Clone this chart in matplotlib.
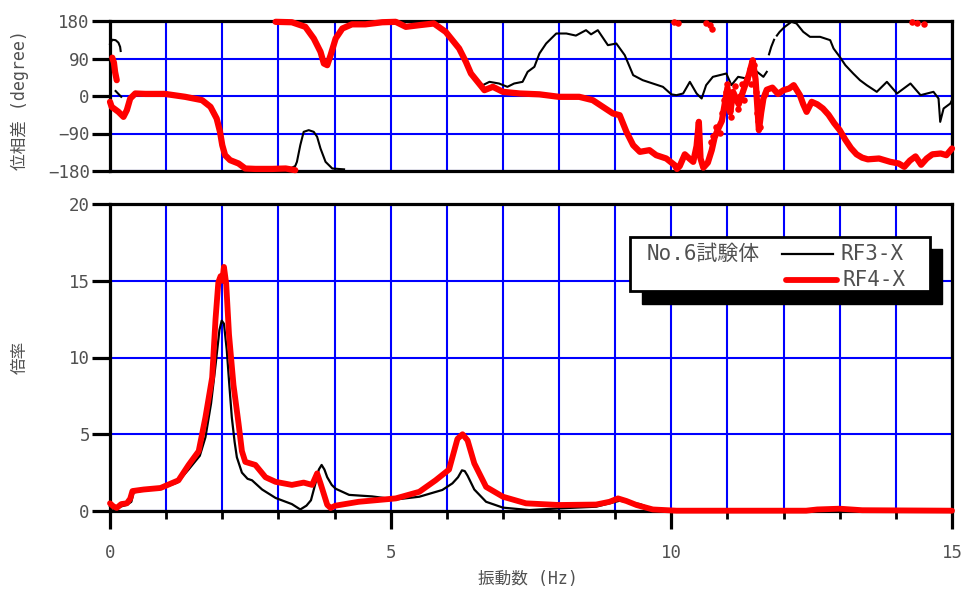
import numpy as np
import matplotlib
matplotlib.use("Agg")
import matplotlib.pyplot as plt
from matplotlib.patches import Rectangle
from matplotlib.lines import Line2D

plt.rcParams['font.family'] = ['DejaVu Sans Mono', 'Noto Sans CJK JP']

nan = np.nan

# ---- 倍率 (amplification) ----
rf3_amp_f = [0.0, 0.05, 0.1, 0.2, 0.3, 0.38, 0.42, 0.6, 0.9, 1.2, 1.4, 1.6, 1.7, 1.8,
             1.88, 1.95, 1.99, 2.03, 2.08, 2.13, 2.17, 2.22, 2.26, 2.35, 2.45, 2.53,
             2.71, 2.95, 3.24, 3.39, 3.5, 3.58, 3.66, 3.72, 3.77, 3.82, 3.87, 3.95,
             4.02, 4.26, 4.67, 5.09, 5.51, 5.92, 6.1, 6.2, 6.27, 6.32, 6.37, 6.49,
             6.7, 7.0, 7.47, 8.0, 8.66, 9.08, 9.2, 9.44, 9.67, 10.0, 12.4, 12.6,
             12.8, 13.0, 13.2, 13.4, 15.0]
rf3_amp = [0.3, 0.15, 0.1, 0.3, 0.4, 0.6, 1.2, 1.35, 1.45, 1.85, 2.7, 3.6, 4.8, 7.0,
           9.5, 11.8, 12.4, 12.2, 10.5, 8.0, 6.1, 4.5, 3.5, 2.5, 2.1, 2.0,
           1.4, 0.85, 0.45, 0.1, 0.35, 0.7, 1.8, 2.7, 3.0, 2.7, 2.2, 1.7,
           1.45, 1.05, 0.95, 0.75, 0.93, 1.37, 1.8, 2.2, 2.65, 2.6, 2.3, 1.4,
           0.6, 0.22, 0.06, 0.17, 0.28, 0.67, 0.6, 0.45, 0.12, 0.02, 0.02, 0.15,
           0.1, 0.2, 0.1, 0.02, 0.02]

rf4_amp_f = [0.0, 0.06, 0.12, 0.2, 0.3, 0.36, 0.4, 0.6, 0.9, 1.22, 1.4, 1.58, 1.7,
             1.82, 1.88, 1.93, 1.97, 2.0, 2.03, 2.07, 2.12, 2.2, 2.29, 2.35, 2.41,
             2.59, 2.77, 2.95, 3.24, 3.45, 3.6, 3.69, 3.75, 3.87, 3.93, 4.02, 4.43,
             5.09, 5.51, 5.8, 6.04, 6.19, 6.28, 6.37, 6.49, 6.7, 7.0, 7.41, 8.0,
             8.66, 8.9, 9.05, 9.2, 9.38, 9.67, 10.09, 12.4, 12.6, 13.0, 13.4, 15.0]
rf4_amp = [0.5, 0.3, 0.2, 0.45, 0.5, 0.8, 1.3, 1.4, 1.5, 2.0, 3.0, 3.9, 6.1,
           8.7, 12.5, 14.9, 15.3, 15.0, 15.9, 14.8, 11.5, 8.2, 5.7, 3.9, 3.2,
           3.0, 2.2, 1.9, 1.7, 1.85, 1.7, 2.45, 1.8, 0.4, 0.2, 0.35, 0.6,
           0.82, 1.25, 2.0, 2.7, 4.7, 5.0, 4.6, 3.1, 1.57, 0.93, 0.5, 0.39,
           0.42, 0.6, 0.82, 0.65, 0.39, 0.1, 0.02, 0.02, 0.1, 0.15, 0.05, 0.02]

# ---- 位相差 (phase, degree); nan separates wrapped pieces ----
rf3_ph_f = [0.0, 0.04, 0.1, 0.15, 0.18, 0.19, nan,
            0.1, 0.15, 0.2, nan,
            2.5, 2.8, 3.0, 3.2, 3.3, 3.33, 3.39, 3.45, 3.54, 3.63, 3.69, 3.75, 3.84,
            3.96, 4.17, nan,
            6.64, 6.76, 6.93, 7.08, 7.2, 7.35, 7.44, 7.56, 7.65, 7.77, 7.95, 8.13,
            8.3, 8.48, 8.57, 8.69, 8.87, 9.02, 9.17, 9.32, 9.49, 9.67, 9.85, 10.0,
            10.09, 10.21, 10.33, 10.45, 10.54, 10.62, 10.74, 10.86, 10.98, 11.07,
            11.19, 11.34, 11.49, 11.64, 11.7, nan,
            11.74, 11.78, 11.83, nan,
            11.88, 11.93, 12.02, 12.14, 12.23, 12.35, 12.47, 12.65, 12.83, 12.89,
            13.0, 13.1, 13.24, 13.36, 13.48, 13.66, 13.84, 14.02, 14.26, 14.44,
            14.67, 14.76, 14.79, 14.85, 14.97, 15.0]
rf3_ph = [125, 135, 134, 128, 118, 108, nan,
          12, 5, -2, nan,
          -179, -178, -172, -175, -168, -158, -118, -86, -82, -86, -98, -126, -158,
          -174, -176, nan,
          26, 34, 30, 22, 30, 34, 58, 70, 102, 126, 150, 150,
          145, 158, 148, 158, 122, 126, 98, 50, 38, 30, 22, 4,
          2, 6, 34, 6, -6, 26, 46, 50, 54, 26,
          46, 42, 62, 46, 58, nan,
          100, 118, 135, nan,
          145, 154, 166, 178, 174, 154, 142, 142, 134, 114,
          94, 74, 54, 38, 26, 10, 34, 6, 30, 2,
          10, -6, -62, -30, -18, -10]

rf4_ph_f = [0.0, 0.03, 0.15, 0.24, 0.3, 0.36, 0.45, 0.63, 0.98, 1.34, 1.64, 1.79,
            1.9, 1.96, 2.0, 2.05, 2.14, 2.29, 2.41, 2.59, 2.89, 3.13, 3.3, nan,
            0.04, 0.07, 0.09, 0.12, nan,
            2.95, 3.24, 3.48, 3.63, 3.75, 3.81, 3.87, 3.93, 4.02, 4.14, 4.31, 4.55,
            4.85, 5.09, 5.27, 5.51, 5.77, 5.98, 6.22, 6.34, 6.43, 6.55, 6.67, 6.82,
            7.0, 7.3, 7.65, 8.0, 8.36, 8.6, 8.78, 8.96, 9.08, 9.2, 9.32, 9.44, 9.61,
            9.73, 9.91, 10.06, 10.1, 10.15, 10.24, 10.32, 10.39, 10.45, 10.49,
            10.52, 10.57, 10.65, 10.72, 10.77, 10.83, 10.9, 10.95, 11.0, 11.05,
            11.1, 11.2, 11.3, 11.38, 11.45, 11.5, 11.53, 11.56, 11.6, 11.64, 11.7,
            11.8, 11.9, 12.0, 12.1, 12.18, 12.29, 12.35, 12.41, 12.5, 12.6, 12.7,
            12.8, 12.9, 13.0, 13.1, 13.2, 13.3, 13.4, 13.5, 13.7, 13.9, 14.05,
            14.15, 14.25, 14.35, 14.45, 14.55, 14.65, 14.8, 14.9, 15.0]
rf4_ph = [-14, -26, -38, -50, -34, -6, 6, 5, 5, -2, -10, -26,
          -54, -86, -118, -142, -154, -162, -174, -175, -175, -174, -178, nan,
          92, 80, 58, 38, nan,
          178, 177, 166, 138, 106, 78, 74, 98, 138, 162, 172, 172,
          177, 178, 166, 170, 174, 154, 114, 82, 54, 34, 14, 22,
          10, 6, 4, -2, -2, -10, -26, -42, -46, -86, -118, -134, -130,
          -142, -150, -166, -175, -168, -140, -150, -158, -120, -62,
          -150, -172, -160, -130, -100, -80, -60, -20, 20, -40,
          10, -20, 20, 50, 86, 40, -20, -82, -40, -6, 15,
          20, 5, 14, 18, 26, 2, -20, -38, -14, -20, -30,
          -45, -65, -82, -105, -125, -140, -148, -152, -150, -158, -162,
          -170, -155, -145, -165, -150, -140, -138, -142, -126]

# scattered RF4-X points around 10-11.7 Hz and the ones sitting at +180
rf4_dot_f = [10.70, 10.74, 10.80, 10.86, 10.90, 10.93, 10.97, 11.00, 11.02, 11.06,
             11.10, 11.14, 11.18, 11.22, 11.26, 11.30, 11.35, 11.40, 11.42, 11.47,
             11.50, 11.52, 11.55, 11.58, 11.60, 11.66,
             10.05, 10.12, 10.62, 10.68, 10.72, 14.28, 14.38, 14.50]
rf4_dot = [-110, -95, -75, -88, -40, -10, 10, 30, -15, -50,
           -5, 25, -30, 0, 30, -10, 40, 65, 30, 75,
           10, -40, -60, -75, -20, 5,
           178, 176, 176, 170, 162, 178, 176, 174]

phase_ticks = [-180, -90, 0, 90, 180]
amp_ticks = [0, 5, 10, 15, 20]
freq_ticks = [0, 5, 10, 15]

W, H = 965, 591
fig = plt.figure(figsize=(W / 100, H / 100), dpi=100)


def fx(px):
    return px / W


def fy(py):
    return 1 - py / H


grey = '#505050'
blue = '#0000ff'

ax_p = fig.add_axes([fx(110), fy(171), fx(952) - fx(110), fy(21) - fy(171)])
ax_a = fig.add_axes([fx(110), fy(511), fx(952) - fx(110), fy(204) - fy(511)])

for ax in (ax_p, ax_a):
    ax.set_axisbelow(True)
    ax.set_xlim(0, 15)
    for s in ax.spines.values():
        s.set_linewidth(2.3)
        s.set_color('black')
    ax.set_xticks(np.arange(0, 16, 1), minor=True)
    ax.grid(True, which='both', axis='x', color=blue, linewidth=1.5)
    ax.grid(True, which='major', axis='y', color=blue, linewidth=1.5)
    ax.tick_params(axis='y', direction='out', length=13, width=2.3,
                   labelsize=12.5, labelcolor=grey, pad=1.5)

# phase panel
ax_p.set_ylim(-180, 180)
ax_p.set_yticks(phase_ticks)
ax_p.set_yticklabels([str(t).replace('-', '\u2212') for t in phase_ticks])
ax_p.set_xticks(freq_ticks)
ax_p.tick_params(axis='x', which='both', length=0, labelbottom=False)
ax_p.plot(rf3_ph_f, rf3_ph, color='black', lw=1.5, zorder=3, clip_on=False)
ax_p.plot(rf4_ph_f, rf4_ph, color='red', lw=4.5, zorder=4, clip_on=False,
          solid_capstyle='round', solid_joinstyle='round')
ax_p.scatter(rf4_dot_f, rf4_dot, s=22, color='red', zorder=4, clip_on=False,
             linewidths=0)

# amplification panel
ax_a.set_ylim(0, 20)
ax_a.set_yticks(amp_ticks)
ax_a.set_xticks(freq_ticks)
ax_a.tick_params(axis='x', which='major', direction='out', length=13, width=2.3,
                 labelsize=12.5, labelcolor=grey, pad=11)
ax_a.tick_params(axis='x', which='minor', direction='out', length=6, width=2.0)
ax_a.plot(rf3_amp_f, rf3_amp, color='black', lw=1.6, zorder=3, clip_on=False)
ax_a.plot(rf4_amp_f, rf4_amp, color='red', lw=4.2, zorder=4, clip_on=False,
          solid_capstyle='round', solid_joinstyle='round')

# axis titles
fig.text(fx(20), fy(100), '位相差 (degree)', rotation=90, ha='center', va='center',
         fontsize=12, color=grey)
fig.text(fx(20), fy(357), '倍率', rotation=90, ha='center', va='center',
         fontsize=12, color=grey)
fig.text(fx(528), fy(579), '振動数 (Hz)', ha='center', va='center',
         fontsize=12, color=grey)

# legend box with drop shadow
fig.patches.append(Rectangle((fx(642), fy(304)), fx(942) - fx(642), fy(249) - fy(304),
                             transform=fig.transFigure, facecolor='black',
                             edgecolor='black', zorder=10))
fig.patches.append(Rectangle((fx(630), fy(291)), fx(930) - fx(630), fy(237) - fy(291),
                             transform=fig.transFigure, facecolor='white',
                             edgecolor='black', linewidth=2.0, zorder=11))
fig.text(fx(647), fy(254), 'No.6試験体', ha='left', va='center', fontsize=15,
         color=grey, zorder=12)
fig.text(fx(840), fy(254), 'RF3-X', ha='left', va='center', fontsize=15,
         color=grey, zorder=12)
fig.text(fx(843), fy(280), 'RF4-X', ha='left', va='center', fontsize=15,
         color=grey, zorder=12)
fig.lines.append(Line2D([fx(782), fx(833)], [fy(254), fy(254)], color='black',
                        lw=1.6, transform=fig.transFigure, zorder=12))
fig.lines.append(Line2D([fx(786), fx(837)], [fy(280), fy(280)], color='red',
                        lw=4.2, solid_capstyle='round', transform=fig.transFigure,
                        zorder=12))

fig.savefig('out.png', dpi=100)
